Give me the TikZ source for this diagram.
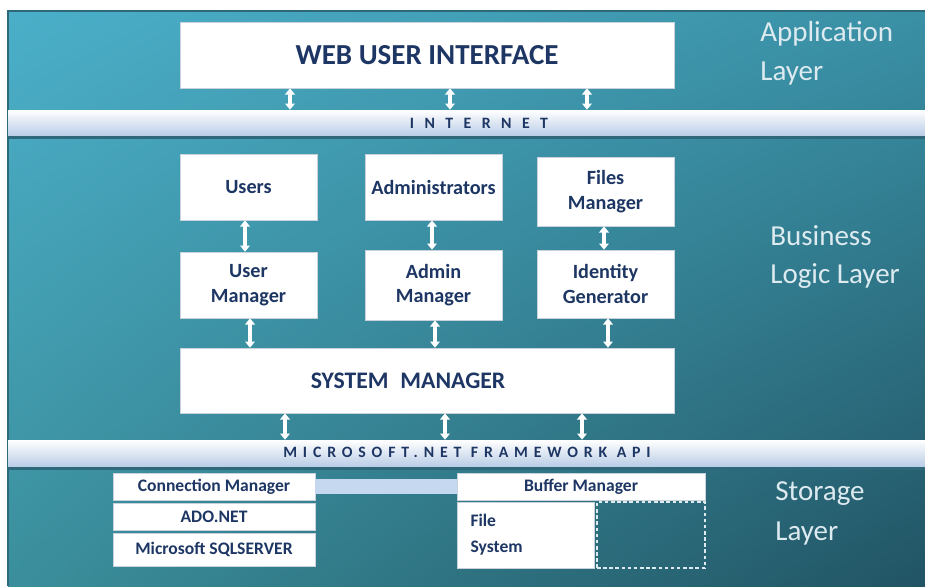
\documentclass[tikz,border=0pt]{standalone}
\usepackage{fontspec}
\setmainfont{Carlito}
\usetikzlibrary{arrows.meta,shadings}
\definecolor{navy}{HTML}{1D3663}
\definecolor{bgul}{HTML}{4BAFC9}
\definecolor{bgur}{HTML}{3A90A5}
\definecolor{bgll}{HTML}{3B8F9C}
\definecolor{bglr}{HTML}{215464}
\definecolor{bandblue}{HTML}{B6CAE5}
\definecolor{bandedge}{HTML}{2F687B}
\definecolor{barblue}{HTML}{C6D8EF}
\definecolor{boxline}{HTML}{C9D1DA}
\definecolor{layertext}{HTML}{DDEAF0}

\begin{document}
\begin{tikzpicture}[x=0.02cm,y=0.02cm]
    \tikzset{
      box/.style={fill=white, draw=boxline, line width=0.4pt, inner sep=0pt, text=navy,
        font=\bfseries\fontsize{11.5}{14}\selectfont, align=center},
      band/.style={inner sep=0pt, minimum width=18.34cm, top color=white, bottom color=bandblue},
      bandtext/.style={inner sep=0pt, text=navy, font=\bfseries\fontsize{9}{10}\selectfont},
      layer/.style={inner sep=0pt, anchor=west, text=layertext, font=\fontsize{16.5}{20}\selectfont},
      link/.style={white, line width=2pt, {Triangle[length=3.5pt,width=5.5pt]}-{Triangle[length=3.5pt,width=5.5pt]}}
    }
    \useasboundingbox (0,0) rectangle (925,-586);
    \fill [white] (0,0) rectangle (925,-586);
    \shade [upper left=bgul, upper right=bgur, lower left=bgll, lower right=bglr] (8,-11) rectangle (925,-586);
    \draw [bandedge, line width=1pt] (8,-586) -- (8,-11) -- (925,-11);
    \node (inet) [band, minimum height=0.54cm] at (466.5,-123.5) {};
    \draw [bandedge, line width=0.06cm] (inet.south west) -- (inet.south east);
    \node (inettext) [bandtext] at (479,-123) {\addfontfeature{LetterSpace=66}INTERNET};
    \node (net) [band, minimum height=0.56cm] at (466.5,-454) {};
    \draw [bandedge, line width=0.06cm] (net.south west) -- (net.south east);
    \node (nettext) [bandtext] at (467,-452) {\addfontfeature{LetterSpace=37}MICROSOFT.NET FRAMEWORK API};
    \node (web) [box, minimum width=9.88cm, minimum height=1.32cm, font=\bfseries\fontsize{16.5}{18}\selectfont] at (427,-55) {WEB USER INTERFACE};
    \node (users) [box, minimum width=2.74cm, minimum height=1.32cm] at (248.5,-187) {Users};
    \node (admins) [box, minimum width=2.74cm, minimum height=1.32cm] at (433.5,-187) {Administrators};
    \node (files) [box, minimum width=2.74cm, minimum height=1.38cm] at (605.5,-191.5) {Files\\Manager};
    \node (usermgr) [box, minimum width=2.74cm, minimum height=1.32cm] at (248.5,-285) {User\\Manager};
    \node (adminmgr) [box, minimum width=2.74cm, minimum height=1.40cm] at (433.5,-285) {Admin\\Manager};
    \node (idgen) [box, minimum width=2.74cm, minimum height=1.36cm] at (605.5,-284) {Identity\\Generator};
    \node (system) [box, minimum width=9.88cm, minimum height=1.30cm, font=\bfseries\fontsize{13.5}{16}\selectfont] at (427,-380.5) {SYSTEM\enspace MANAGER\hspace{0.76cm}};
    \node (conn) [box, minimum width=4.04cm, minimum height=0.54cm, font=\bfseries\fontsize{10}{12}\selectfont] at (214,-486.5) {Connection Manager};
    \node (ado) [box, minimum width=4.04cm, minimum height=0.54cm, font=\bfseries\fontsize{10}{12}\selectfont] at (214,-516.5) {ADO.NET};
    \node (sql) [box, minimum width=4.04cm, minimum height=0.66cm, font=\bfseries\fontsize{10}{12}\selectfont] at (214,-549.5) {Microsoft SQLSERVER};
    \node (buffer) [box, minimum width=4.96cm, minimum height=0.54cm, font=\bfseries\fontsize{10}{12}\selectfont] at (581,-486.5) {Buffer Manager};
    \node (filesys) [box, minimum width=2.74cm, minimum height=1.32cm, text width=2.2cm, align=left, font=\bfseries\fontsize{10}{14.7}\selectfont] at (525.5,-535) {File\\System};
    \node (spare) [draw=layertext, dash pattern=on 2pt off 1.5pt, line width=0.6pt, inner sep=0pt, minimum width=2.16cm, minimum height=1.32cm] at (651,-535) {};
    \draw [barblue, line width=0.3cm] (conn.east) -- (buffer.west);
    \draw [link] (web.south -| 290,0) -- (inet.north -| 290,0);
    \draw [link] (web.south -| 450,0) -- (inet.north -| 450,0);
    \draw [link] (web.south -| 587,0) -- (inet.north -| 587,0);
    \draw [link] (users.south -| 245,0) -- (usermgr.north -| 245,0);
    \draw [link] (admins.south -| 432,0) -- (adminmgr.north -| 432,0);
    \draw [link] (files.south -| 604,0) -- (idgen.north -| 604,0);
    \draw [link] (usermgr.south -| 250,0) -- (system.north -| 250,0);
    \draw [link] (adminmgr.south -| 435,0) -- (system.north -| 435,0);
    \draw [link] (idgen.south -| 608,0) -- (system.north -| 608,0);
    \draw [link] (system.south -| 285,0) -- (net.north -| 285,0);
    \draw [link] (system.south -| 445,0) -- (net.north -| 445,0);
    \draw [link] (system.south -| 582,0) -- (net.north -| 582,0);
    \node (app1) [layer] at (760,-34) {Application};
    \node (app2) [layer] at (760,-74) {Layer};
    \node (bus1) [layer] at (770,-236) {Business};
    \node (bus2) [layer] at (770,-276) {Logic Layer};
    \node (sto1) [layer] at (775,-494) {Storage};
    \node (sto2) [layer] at (775,-534) {Layer};
\end{tikzpicture}
\end{document}
